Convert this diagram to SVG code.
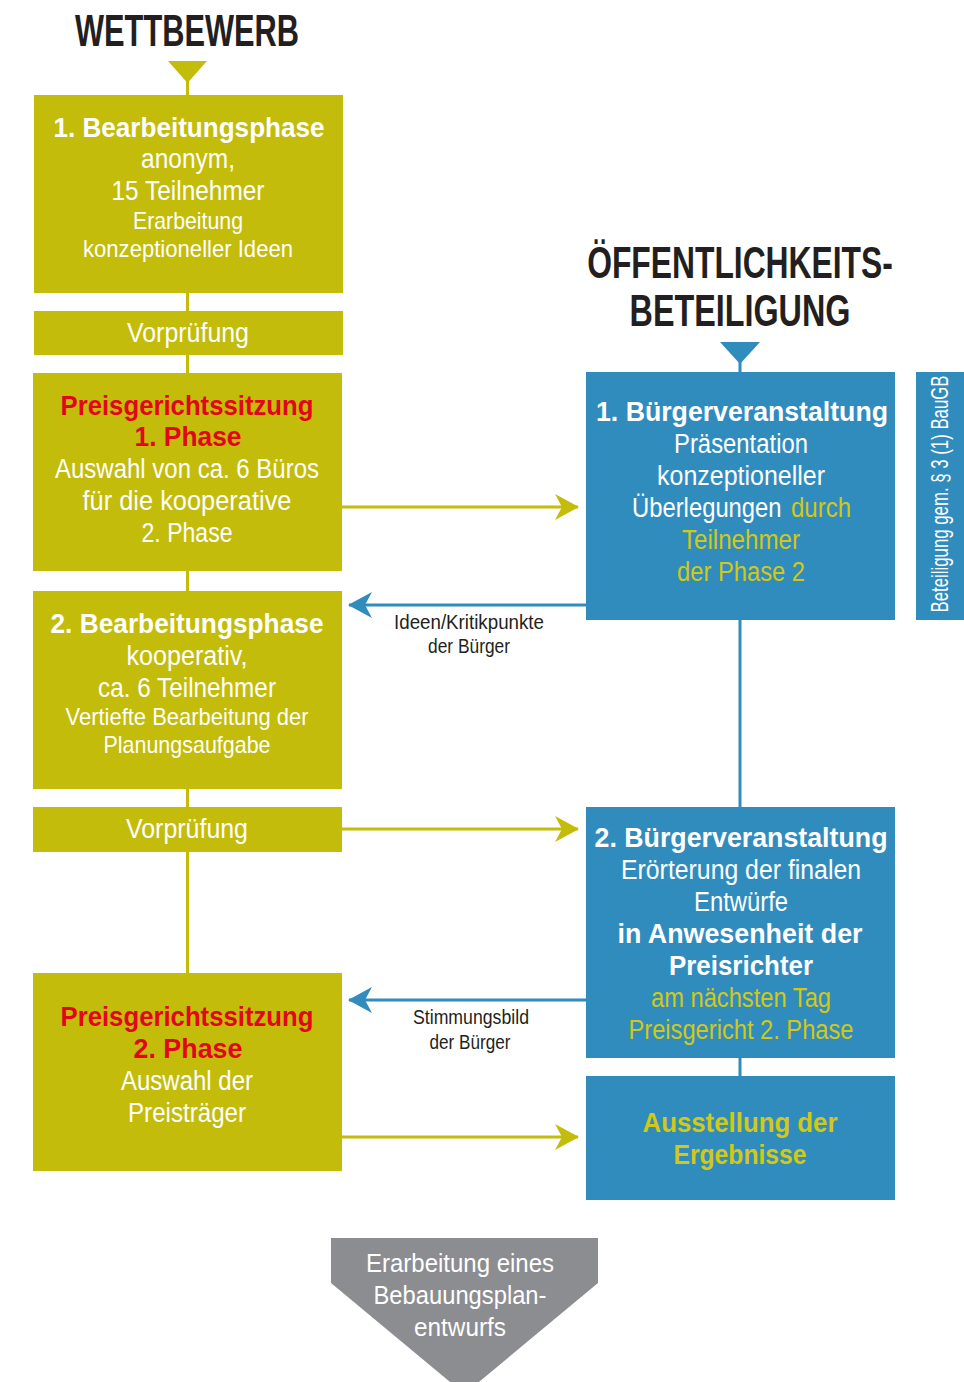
<svg xmlns="http://www.w3.org/2000/svg" width="964" height="1382" viewBox="0 0 964 1382">
<style>
text{font-family:"Liberation Sans Narrow","Liberation Sans",Arial,sans-serif;text-anchor:middle}
.ttl{font-size:44px;font-weight:bold;fill:#231f20}
.hb{font-size:27px;font-weight:bold;fill:#fff}
.b{font-size:27px;fill:#fff}
.s{font-size:24px;fill:#fff}
.st{text-anchor:start}
.red{fill:#e3051b}
.yel{fill:#d2c816}
.lbl{font-size:21px;fill:#231f20}
.gry{font-size:26px;fill:#fff}
.ol{fill:#c3bc0a}
.bl{fill:#318cbe}
.lo{stroke:#c3bc0a;stroke-width:3;fill:none}
.lb{stroke:#318cbe;stroke-width:3;fill:none}
</style>
<defs>
<marker id="ao" markerUnits="userSpaceOnUse" markerWidth="24" markerHeight="28" viewBox="0 0 24 28" refX="23" refY="14" orient="auto">
<path d="M0,1 L24,14 L0,27 L7,14 Z" fill="#c3bc0a"/>
</marker>
<marker id="ab" markerUnits="userSpaceOnUse" markerWidth="24" markerHeight="28" viewBox="0 0 24 28" refX="23" refY="14" orient="auto">
<path d="M0,1 L24,14 L0,27 L7,14 Z" fill="#318cbe"/>
</marker>
</defs>

<g id="titles">
<text class="ttl" transform="translate(187,46) scale(0.8,1)" x="0" y="0" textLength="280" lengthAdjust="spacingAndGlyphs">WETTBEWERB</text>
<text class="ttl" transform="translate(740,278) scale(0.8,1)" x="0" y="0" textLength="382" lengthAdjust="spacingAndGlyphs">ÖFFENTLICHKEITS-</text>
<text class="ttl" transform="translate(740,326) scale(0.8,1)" x="0" y="0" textLength="276" lengthAdjust="spacingAndGlyphs">BETEILIGUNG</text>
<polygon class="ol" points="168,61 207,61 187.5,83"/>
<polygon class="bl" points="720,342 760,342 740,364"/>
</g>

<g id="connectors">
<line class="lo" x1="187.5" y1="80" x2="187.5" y2="95"/>
<line class="lo" x1="187.5" y1="293" x2="187.5" y2="311"/>
<line class="lo" x1="187.5" y1="355" x2="187.5" y2="373"/>
<line class="lo" x1="187.5" y1="571" x2="187.5" y2="591"/>
<line class="lo" x1="187.5" y1="789" x2="187.5" y2="807"/>
<line class="lo" x1="187.5" y1="852" x2="187.5" y2="973"/>
<line class="lb" x1="740" y1="362" x2="740" y2="372"/>
<line class="lb" x1="740" y1="620" x2="740" y2="807"/>
<line class="lb" x1="740" y1="1058" x2="740" y2="1076"/>
<line class="lo" x1="342" y1="507" x2="578" y2="507" marker-end="url(#ao)"/>
<line class="lo" x1="342" y1="829" x2="578" y2="829" marker-end="url(#ao)"/>
<line class="lo" x1="342" y1="1137" x2="578" y2="1137" marker-end="url(#ao)"/>
<line class="lb" x1="587" y1="605" x2="349" y2="605" marker-end="url(#ab)"/>
<line class="lb" x1="587" y1="1000" x2="349" y2="1000" marker-end="url(#ab)"/>
<text class="lbl" x="469" y="629" textLength="150" lengthAdjust="spacingAndGlyphs">Ideen/Kritikpunkte</text>
<text class="lbl" x="469" y="653" textLength="82" lengthAdjust="spacingAndGlyphs">der Bürger</text>
<text class="lbl" x="471" y="1024" textLength="116" lengthAdjust="spacingAndGlyphs">Stimmungsbild</text>
<text class="lbl" x="470" y="1049" textLength="81" lengthAdjust="spacingAndGlyphs">der Bürger</text>
</g>

<g id="phase1">
<rect class="ol" x="34" y="95" width="309" height="198"/>
<text class="hb" x="189" y="137" textLength="271" lengthAdjust="spacingAndGlyphs">1. Bearbeitungsphase</text>
<text class="b" x="188" y="168" textLength="94" lengthAdjust="spacingAndGlyphs">anonym,</text>
<text class="b" x="188" y="200" textLength="153" lengthAdjust="spacingAndGlyphs">15 Teilnehmer</text>
<text class="s" x="188" y="229" textLength="110" lengthAdjust="spacingAndGlyphs">Erarbeitung</text>
<text class="s" x="188" y="257" textLength="210" lengthAdjust="spacingAndGlyphs">konzeptioneller Ideen</text>
</g>

<g id="vorpruefung1">
<rect class="ol" x="34" y="311" width="309" height="44"/>
<text class="b" x="188" y="342" textLength="122" lengthAdjust="spacingAndGlyphs">Vorprüfung</text>
</g>

<g id="preisgericht1">
<rect class="ol" x="33" y="373" width="309" height="198"/>
<text class="hb red" x="187" y="415" textLength="253" lengthAdjust="spacingAndGlyphs">Preisgerichtssitzung</text>
<text class="hb red" x="188" y="446" textLength="107" lengthAdjust="spacingAndGlyphs">1. Phase</text>
<text class="b" x="187" y="478" textLength="264" lengthAdjust="spacingAndGlyphs">Auswahl von ca. 6 Büros</text>
<text class="b" x="187" y="510" textLength="209" lengthAdjust="spacingAndGlyphs">für die kooperative</text>
<text class="b" x="187" y="542" textLength="91" lengthAdjust="spacingAndGlyphs">2. Phase</text>
</g>

<g id="phase2">
<rect class="ol" x="33" y="591" width="309" height="198"/>
<text class="hb" x="187" y="633" textLength="273" lengthAdjust="spacingAndGlyphs">2. Bearbeitungsphase</text>
<text class="b" x="187" y="665" textLength="121" lengthAdjust="spacingAndGlyphs">kooperativ,</text>
<text class="b" x="187" y="697" textLength="178" lengthAdjust="spacingAndGlyphs">ca. 6 Teilnehmer</text>
<text class="s" x="187" y="725" textLength="243" lengthAdjust="spacingAndGlyphs">Vertiefte Bearbeitung der</text>
<text class="s" x="187" y="753" textLength="167" lengthAdjust="spacingAndGlyphs">Planungsaufgabe</text>
</g>

<g id="vorpruefung2">
<rect class="ol" x="33" y="807" width="309" height="45"/>
<text class="b" x="187" y="838" textLength="122" lengthAdjust="spacingAndGlyphs">Vorprüfung</text>
</g>

<g id="preisgericht2">
<rect class="ol" x="33" y="973" width="309" height="198"/>
<text class="hb red" x="187" y="1026" textLength="253" lengthAdjust="spacingAndGlyphs">Preisgerichtssitzung</text>
<text class="hb red" x="188" y="1058" textLength="109" lengthAdjust="spacingAndGlyphs">2. Phase</text>
<text class="b" x="187" y="1090" textLength="132" lengthAdjust="spacingAndGlyphs">Auswahl der</text>
<text class="b" x="187" y="1122" textLength="118" lengthAdjust="spacingAndGlyphs">Preisträger</text>
</g>

<g id="buerger1">
<rect class="bl" x="586" y="372" width="309" height="248"/>
<text class="hb" x="742" y="421" textLength="292" lengthAdjust="spacingAndGlyphs">1. Bürgerveranstaltung</text>
<text class="b" x="741" y="453" textLength="134" lengthAdjust="spacingAndGlyphs">Präsentation</text>
<text class="b" x="741" y="485" textLength="168" lengthAdjust="spacingAndGlyphs">konzeptioneller</text>
<text class="b st" transform="translate(632,517) scale(0.8,1)" x="0" y="0" textLength="187" lengthAdjust="spacingAndGlyphs">Überlegungen</text>
<text class="b st yel" x="791" y="517" textLength="60" lengthAdjust="spacingAndGlyphs">durch</text>
<text class="b yel" x="741" y="549" textLength="118" lengthAdjust="spacingAndGlyphs">Teilnehmer</text>
<text class="b yel" x="741" y="581" textLength="128" lengthAdjust="spacingAndGlyphs">der Phase 2</text>
</g>

<g id="baugb">
<rect class="bl" x="916" y="372" width="48" height="248"/>
<text class="s" transform="translate(948,494) rotate(-90)" x="0" y="0" textLength="237" lengthAdjust="spacingAndGlyphs">Beteiligung gem. § 3 (1) BauGB</text>
</g>

<g id="buerger2">
<rect class="bl" x="586" y="807" width="309" height="251"/>
<text class="hb" x="741" y="847" textLength="293" lengthAdjust="spacingAndGlyphs">2. Bürgerveranstaltung</text>
<text class="b" x="741" y="879" textLength="240" lengthAdjust="spacingAndGlyphs">Erörterung der finalen</text>
<text class="b" x="741" y="911" textLength="94" lengthAdjust="spacingAndGlyphs">Entwürfe</text>
<text class="hb" x="740" y="943" textLength="245" lengthAdjust="spacingAndGlyphs">in Anwesenheit der</text>
<text class="hb" x="741" y="975" textLength="144" lengthAdjust="spacingAndGlyphs">Preisrichter</text>
<text class="b yel" x="741" y="1007" textLength="180" lengthAdjust="spacingAndGlyphs">am nächsten Tag</text>
<text class="b yel" x="741" y="1039" textLength="225" lengthAdjust="spacingAndGlyphs">Preisgericht 2. Phase</text>
</g>

<g id="ausstellung">
<rect class="bl" x="586" y="1076" width="309" height="124"/>
<text class="hb yel" x="740" y="1132" textLength="195" lengthAdjust="spacingAndGlyphs">Ausstellung der</text>
<text class="hb yel" x="740" y="1164" textLength="133" lengthAdjust="spacingAndGlyphs">Ergebnisse</text>
</g>

<g id="bebauungsplan">
<polygon fill="#8c8d91" points="331,1238 598,1238 598,1283 464.5,1394 331,1283"/>
<text class="gry" x="460" y="1272" textLength="188" lengthAdjust="spacingAndGlyphs">Erarbeitung eines</text>
<text class="gry" x="460" y="1304" textLength="173" lengthAdjust="spacingAndGlyphs">Bebauungsplan-</text>
<text class="gry" x="460" y="1336" textLength="92" lengthAdjust="spacingAndGlyphs">entwurfs</text>
</g>
</svg>
